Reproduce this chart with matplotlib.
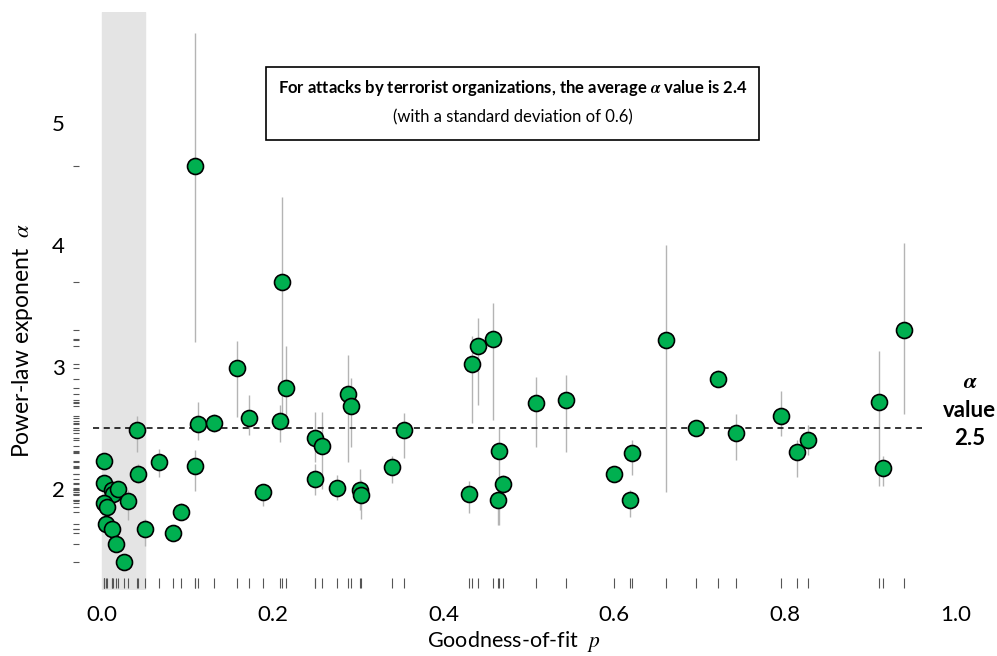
import matplotlib.pyplot as plt
from matplotlib.patches import Rectangle
import numpy as np

plt.rcParams['font.family'] = ['Lato', 'DejaVu Sans']
plt.rcParams['mathtext.fontset'] = 'custom'
plt.rcParams['mathtext.rm'] = 'STIXGeneral'
plt.rcParams['mathtext.it'] = 'STIXGeneral:italic'
plt.rcParams['mathtext.bf'] = 'STIXGeneral:italic:bold'

# goodness-of-fit p, fitted alpha, error bar low / high
p_val = [0.002, 0.002, 0.012, 0.013, 0.019, 0.002, 0.0055, 0.0047, 0.012, 0.0167,
         0.0258, 0.030, 0.0414, 0.0425, 0.051, 0.0667, 0.0827, 0.092, 0.1085, 0.109,
         0.112, 0.1315, 0.158, 0.1727, 0.189, 0.2083, 0.211, 0.2158, 0.249, 0.249,
         0.2576, 0.2756, 0.2877, 0.292, 0.302, 0.3033, 0.340, 0.3536, 0.4297, 0.4336,
         0.4403, 0.4575, 0.465, 0.4633, 0.470, 0.5082, 0.5437, 0.5995, 0.6206, 0.6186,
         0.660, 0.696, 0.7213, 0.743, 0.7947, 0.8135, 0.827, 0.9098, 0.915, 0.939]
alpha = [2.23, 2.05, 1.99, 1.96, 2.00, 1.88, 1.85, 1.71, 1.67, 1.55,
         1.40, 1.90, 2.48, 2.12, 1.67, 2.22, 1.64, 1.81, 4.65, 2.19,
         2.535, 2.54, 2.99, 2.58, 1.97, 2.56, 3.70, 2.83, 2.415, 2.08,
         2.35, 2.01, 2.776, 2.68, 1.99, 1.95, 2.18, 2.486, 1.956, 3.025,
         3.17, 3.23, 2.31, 1.91, 2.04, 2.70, 2.73, 2.12, 2.29, 1.91,
         3.22, 2.495, 2.90, 2.46, 2.60, 2.30, 2.40, 2.71, 2.17, 3.30]
err_lo = [2.18, 2.00, 1.95, 1.92, 1.96, 1.84, 1.81, 1.67, 1.63, 1.51,
          1.37, 1.745, 2.30, 2.05, 1.53, 2.10, 1.58, 1.77, 3.20, 1.98,
          2.40, 2.47, 2.59, 2.44, 1.855, 2.385, 2.57, 2.54, 2.22, 1.95,
          2.00, 1.91, 2.22, 2.345, 1.83, 1.75, 2.05, 2.25, 1.80, 2.54,
          2.69, 2.565, 1.70, 1.70, 1.95, 2.34, 2.30, 2.06, 2.11, 1.765,
          1.97, 2.43, 2.85, 2.24, 2.43, 2.10, 2.28, 2.02, 2.02, 2.61]
err_hi = [2.28, 2.10, 2.03, 2.00, 2.05, 1.92, 1.89, 1.75, 1.71, 1.59,
          1.43, 1.99, 2.60, 2.20, 1.75, 2.33, 1.68, 1.885, 5.74, 2.32,
          2.715, 2.61, 3.21, 2.77, 2.03, 2.69, 4.39, 3.17, 2.63, 2.20,
          2.63, 2.11, 3.10, 2.91, 2.16, 2.07, 2.27, 2.62, 2.06, 3.25,
          3.40, 3.52, 2.51, 1.99, 2.11, 2.92, 2.93, 2.18, 2.40, 1.99,
          4.00, 2.56, 2.975, 2.61, 2.80, 2.40, 2.525, 3.13, 2.265, 4.02]

mean_line = 2.5
sig_cut = 0.05
x_ticks = [0.0, 0.2, 0.4, 0.6, 0.8, 1.0]
y_ticks = [2, 3, 4, 5]

fig = plt.figure(figsize=(9.97, 6.56), dpi=100)
ax = fig.add_axes([0.068, 0.1006, 0.895, 0.881])
ax.set_xlim(-0.04, 1.005)
ax.set_ylim(1.17, 5.91)

ax.axvspan(0, sig_cut, color='#e4e4e4', zorder=0)

ax.vlines(p_val, err_lo, err_hi, color='#b4b4b4', lw=1, zorder=1)
ax.plot([-0.01, 0.96], [mean_line, mean_line], color='black', lw=1.1,
        ls=(0, (4, 3)), zorder=2)
ax.plot(p_val, alpha, 'o', ms=11.5, mfc='#00b050', mec='black', mew=1.2, zorder=3)

# rugs
ax.vlines(p_val, 1.19, 1.27, color='#555555', lw=0.8)
ax.hlines(alpha, -0.034, -0.027, color='#555555', lw=0.8)

ax.set_xticks(x_ticks)
ax.set_xticklabels(['%.1f' % t for t in x_ticks])
ax.set_yticks(y_ticks)
ax.tick_params(length=0, labelsize=16)
ax.tick_params(axis='x', pad=11)
ax.tick_params(axis='y', pad=2)
for s in ax.spines.values():
    s.set_visible(False)

ax.set_xlabel(r'Goodness-of-fit  $p$', fontsize=15.5, labelpad=3)
ax.set_ylabel(r'Power-law exponent  $\alpha$', fontsize=16.5)
ax.yaxis.set_label_coords(-0.037, 0.4325)

ax.add_patch(Rectangle((0.222, 0.7785), 0.5525, 0.1263, transform=ax.transAxes,
                       fill=False, ec='black', lw=1.2, zorder=5))
ax.text(0.4985, 0.8685, r'For attacks by terrorist organizations, the average $\mathbf{\alpha}$ value is 2.4',
        transform=ax.transAxes, ha='center', va='center', fontsize=12, fontweight='bold')
ax.text(0.4985, 0.8183, '(with a standard deviation of 0.6)',
        transform=ax.transAxes, ha='center', va='center', fontsize=12)

ax.text(1.011, 0.311, r'$\mathbf{\alpha}$' + '\nvalue\n2.5', transform=ax.transAxes,
        ha='center', va='center', fontsize=16, fontweight='bold', linespacing=1.45)

plt.savefig('out.png', dpi=100)
